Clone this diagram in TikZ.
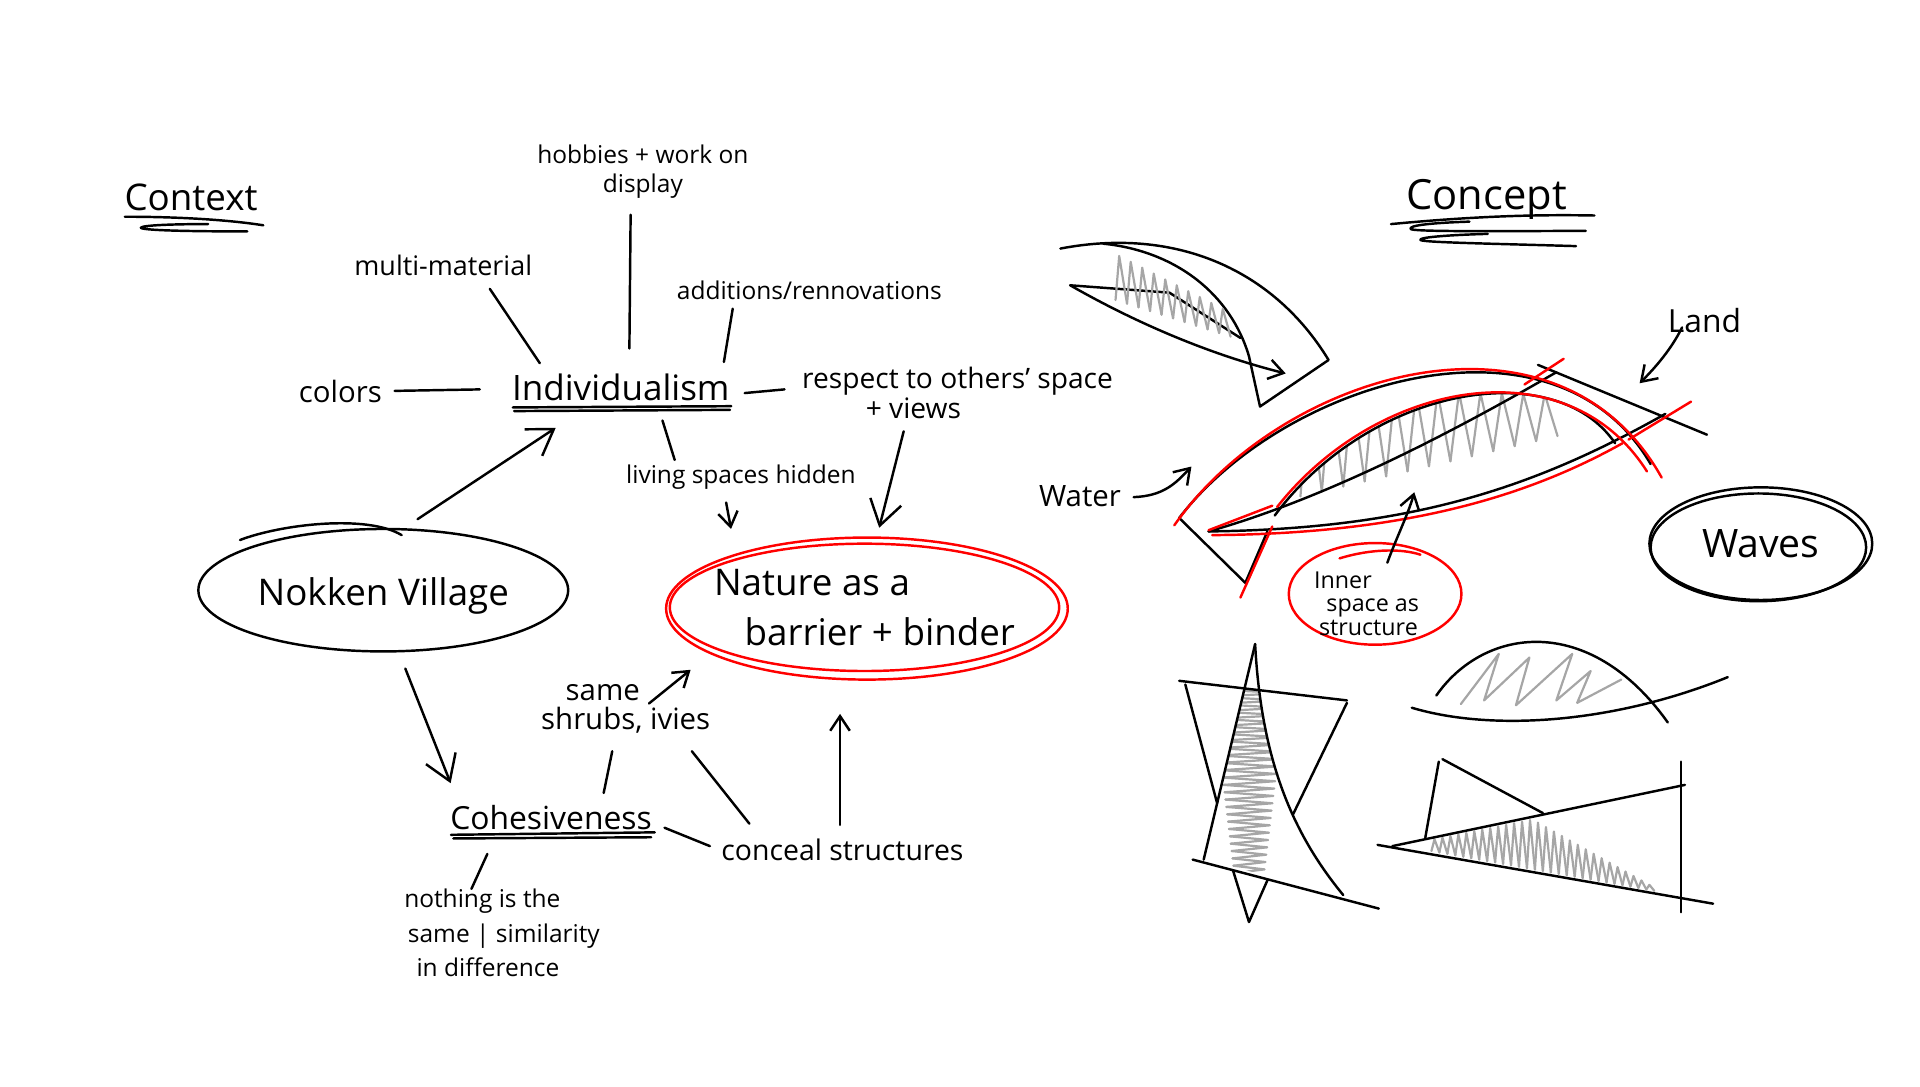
\documentclass[tikz,border=0pt]{standalone}
\usepackage{fontspec}
\setmainfont{Open Sans}
\usetikzlibrary{shapes.geometric,arrows.meta}

\tikzset{
  note/.style={inner sep=1pt, font=\fontsize{10}{12}\selectfont},
  heading/.style={inner sep=1pt, font=\fontsize{15}{18}\selectfont},
  bubble/.style={ellipse, draw, line width=1pt, inner sep=0pt},
  link/.style={line width=1pt, line cap=round},
  arr/.style={link, -{Straight Barb[length=6pt,width=8pt,line width=1pt]}},
  bigarr/.style={link, -{Straight Barb[length=10pt,width=13pt,line width=1pt]}},
  sketch/.style={line width=1pt, line cap=round, line join=round},
  redink/.style={sketch, draw=red},
  hatch/.style={line width=0.9pt, draw=black!35, line cap=round, line join=round},
}

\begin{document}
\begin{tikzpicture}[x=0.5pt,y=-0.5pt]
\useasboundingbox (0,0) rectangle (1568,887);

% context map
\node[heading] (context) at (156,161) {Context};
\draw[sketch] (102,177) .. controls (150,177) and (190,180) .. (215,184);
\draw[sketch] (170,183) .. controls (140,183) and (116,184) .. (115,186) .. controls (116,188) and (150,189) .. (202,189);

\node[note, align=center] (hobbies) at (525,140) {hobbies + work on\\display};
\node[note, font=\fontsize{11}{13}\selectfont] (multi) at (362,217) {multi-material};
\node[note] (additions) at (661,237) {additions/rennovations};
\node[note, font=\fontsize{12}{14}\selectfont] (colors) at (278,320) {colors};
\node[heading, font=\fontsize{14.3}{17}\selectfont] (indiv) at (507,316) {Individualism};
\node[note, align=left, font=\fontsize{11.5}{12}\selectfont] (respect) at (782,321) {respect to others' space\\\hspace*{26pt}+ views};
\node[note] (living) at (605,390) {living spaces hidden};
\node[bubble, minimum width=151pt, minimum height=50pt,
      label={[heading, yshift=-2.5pt]center:Nokken Village}] (nokken) at (313,482) {};
\node[bubble, draw=red, minimum width=159pt, minimum height=52pt,
      label={[heading, align=left, font=\fontsize{15}{20.5}\selectfont]center:{Nature as a\\\hspace*{12.5pt}barrier + binder}}] (nature) at (706,496) {};
\node[heading, font=\fontsize{13}{16}\selectfont] (cohesion) at (450,668) {Cohesiveness};
\node[note, align=left, font=\fontsize{10}{14}\selectfont] (nothing) at (410,762) {nothing is the\\\hspace*{1.5pt}same | similarity\\\hspace*{5pt}in difference};
\node[note, align=left, font=\fontsize{12}{12}\selectfont] (shrubs) at (511,579) {\hspace*{10pt}same\\shrubs, ivies};
\node[note, font=\fontsize{11.6}{14}\selectfont] (conceal) at (688,694) {conceal structures};

% underlines and extra strokes
\draw[sketch] ([shift={(3,6)}]indiv.base west) -- ([shift={(-1,5)}]indiv.base east);
\draw[sketch] ([shift={(4,9)}]indiv.base west) -- ([shift={(-2,8)}]indiv.base east);
\draw[sketch] ([shift={(3,4)}]cohesion.base west) -- ([shift={(0,2)}]cohesion.base east);
\draw[sketch] ([shift={(5,7)}]cohesion.base west) -- ([shift={(-3,6)}]cohesion.base east);
\draw[sketch] (196,441) .. controls (230,428) and (300,420) .. (328,437);
\draw[redink] ([shift={(2,1)}]nature.center) ellipse [x radius=82pt, y radius=29pt];

% connectors
\draw[link, shorten <=4pt, shorten >=12pt] (colors) -- (indiv);
\draw[link] ([shift={(38,8)}]multi.south) -- ([shift={(25,-6)}]indiv.north west);
\draw[link] ([shift={(-10,11)}]hobbies.south) -- ([shift={(7,-18)}]indiv.north);
\draw[link] ([shift={(48,5)}]additions.south west) -- ([shift={(-7,-7)}]indiv.north east);
\draw[link] ([shift={(10,5)}]indiv.east) -- ([shift={(-12,-3)}]respect.west);
\draw[link] ([shift={(34,14)}]indiv.south) -- ([shift={(-54,-2)}]living.north);
\draw[arr] ([shift={(-12,8)}]living.south) -- ([shift={(-109,-11)}]nature.north);
\draw[bigarr] ([shift={(-44,8)}]respect.south) -- ([shift={(12,-12)}]nature.north);
\draw[bigarr] ([shift={(28,-7)}]nokken.north) -- ([shift={(38,20)}]indiv.south west);
\draw[bigarr] ([shift={(18,13)}]nokken.south) -- ([shift={(-82,-16)}]cohesion.north);
\draw[link] ([shift={(-52,17)}]cohesion.south) -- ([shift={(-25,2)}]nothing.north);
\draw[link] ([shift={(43,-8)}]cohesion.north) -- ([shift={(-11,12)}]shrubs.south);
\draw[arr] ([shift={(19,18)}]shrubs.north) -- ([shift={(18,51)}]nature.west);
\draw[link] ([shift={(54,12)}]shrubs.south) -- ([shift={(-76,-10)}]conceal.north);
\draw[link] ([shift={(8,8)}]cohesion.east) -- ([shift={(-7,-3)}]conceal.west);
\draw[arr] ([shift={(-2,-9)}]conceal.north) -- ([shift={(-20,34)}]nature.south);

% concept sketches
\node[heading, font=\fontsize{17}{20}\selectfont] (concept) at (1214,163) {Concept};
\draw[sketch] (1136,183) .. controls (1200,177) and (1250,175) .. (1302,176);
\draw[sketch] (1200,181) .. controls (1170,182) and (1150,184) .. (1152,187) .. controls (1154,189) and (1200,189) .. (1295,188.5);
\draw[sketch] (1215,191) .. controls (1180,192) and (1158,194) .. (1160,196) .. controls (1162,198) and (1220,199) .. (1287,201);

% curved blade
\draw[sketch] (866,203) .. controls (960,185) and (1040,220) .. (1085,294) -- (1029,332) -- (1020,291);
\draw[sketch] (901,199) .. controls (960,205) and (1005,240) .. (1020,291);
\draw[sketch] (1013,276) -- (955,239) -- (874,233);
\draw[arr] (874,233) .. controls (930,265) and (990,290) .. (1050,305);
\foreach \k in {0,...,9} {
  \pgfmathsetmacro\hx{911+9.4*\k}
  \draw[hatch] (\hx,{245+3*\k}) -- ({\hx+3},{209+4.8*\k}) -- ({\hx+9.4},{248+3*\k});
}

% lens
\begin{scope}
  \clip (1041,421) .. controls (1120,315) and (1270,290) .. (1319,362) -- cycle;
  \foreach \k in {0,...,11} {
    \pgfmathsetmacro\hx{1062+17.5*\k}
    \pgfmathsetmacro\hb{405-(\hx-1064)*0.235}
    \draw[hatch] (\hx,\hb) -- ({\hx+7},{318+(\hx-1062)*0.02}) -- ({\hx+17.5},{\hb-4.1});
  }
\end{scope}
\draw[sketch] (963,423) .. controls (1050,310) and (1270,245) .. (1348,379);
\draw[sketch] (1041,421) .. controls (1120,315) and (1270,290) .. (1319,362);
\draw[sketch] (987,434) .. controls (1150,432) and (1250,400) .. (1360,338);
\draw[sketch] (987,434) .. controls (1090,405) and (1200,345) .. (1271,304);
\draw[sketch] (1256,298) -- (1394,355);
\draw[sketch] (963,423) -- (1017,476) -- (1035,434);
\draw[redink] (959,429) .. controls (1048,302) and (1272,238) .. (1357,390);
\draw[redink] (1043,414) .. controls (1125,310) and (1280,282) .. (1345,385);
\draw[redink] (990,437) .. controls (1150,436) and (1250,404) .. (1325,362);
\draw[redink] (1330,359) -- (1381,328);
\draw[redink] (1245,314) -- (1277,293);
\draw[redink] (1013,488) -- (1039,430);
\draw[redink] (987,433) -- (1039,413);

\node[note, font=\fontsize{12}{14}\selectfont] (water) at (882,405) {Water};
\draw[arr] ([shift={(8,1)}]water.east) .. controls (950,405) and (960,395) .. (973,381);
\node[note, font=\fontsize{13}{15}\selectfont] (land) at (1392,262) {Land};
\draw[arr] ([shift={(14,-7)}]land.south west) .. controls (1365,285) and (1352,300) .. (1339,313);
\node[bubble, draw=red, minimum width=70.5pt, minimum height=41.5pt,
      label={[note, align=left, font=\fontsize{9.5}{9.5}\selectfont, xshift=-3.5pt, yshift=-4pt]center:{Inner\\\hspace*{5pt}space as\\\hspace*{2pt}structure}}] (inner) at (1123,485) {};
\draw[redink] (1094,456) .. controls (1120,448) and (1145,448) .. (1160,453);
\draw[arr] ([shift={(10,17)}]inner.north) .. controls (1140,440) and (1150,420) .. (1155,402);
\node[bubble, minimum width=91pt, minimum height=46pt,
      label={[heading, font=\fontsize{16}{18}\selectfont]center:Waves}] (waves) at (1438,444) {};
\draw[sketch] ([shift={(-2,3)}]waves.center) ellipse [x radius=44pt, y radius=22pt];

% crossed triangles
\begin{scope}
  \clip (1025,526) -- (983,702) -- (1097,731) .. controls (1055,680) and (1030,620) .. (1025,526) -- cycle;
  \foreach \k in {0,...,24} {
    \pgfmathsetmacro\hy{563+6*\k}
    \draw[hatch] ({990+(\hy-563)*0.12},\hy) -- ({1050-(\hy-563)*0.12},{\hy+3}) -- ({990+(\hy-557)*0.12},{\hy+6});
  }
\end{scope}
\draw[sketch] (963,556) -- (1100,572);
\draw[sketch] (968,559) -- (994,656);
\draw[sketch] (1100,574) -- (1056,665);
\draw[sketch] (1025,526) -- (983,702);
\draw[sketch] (1025,526) .. controls (1030,620) and (1055,680) .. (1097,731);
\draw[sketch] (974,702) -- (1126,742);
\draw[sketch] (1007,711) -- (1020,753) -- (1035,719);

% hump
\draw[hatch] (1193,575) -- (1224,534) -- (1212,572) -- (1249,537) -- (1238,576) -- (1284,534) -- (1271,572) -- (1299,548) -- (1288,574) -- (1324,555);
\draw[sketch] (1173,568) .. controls (1212,512) and (1298,500) .. (1362,590);
\draw[sketch] (1153,578) .. controls (1220,598) and (1320,590) .. (1411,553);

% wedge
\foreach \k in {0,...,27} {
  \pgfmathsetmacro\hx{1169+6.5*\k}
  \pgfmathsetmacro\hb{695+(\hx-1169)*0.1786}
  \pgfmathsetmacro\ht{\hb-40+0.38*abs(\hx-1249)}
  \draw[hatch] (\hx,\hb) -- ({\hx+2.5},\ht) -- ({\hx+6.5},{\hb+1.16});
}
\draw[sketch] (1175,622) -- (1164,684);
\draw[sketch] (1178,620) -- (1260,664);
\draw[sketch] (1137,691) -- (1376,641);
\draw[sketch] (1125,690) -- (1399,738);
\draw[sketch] (1373,622) -- (1373,745);
\end{tikzpicture}
\end{document}
